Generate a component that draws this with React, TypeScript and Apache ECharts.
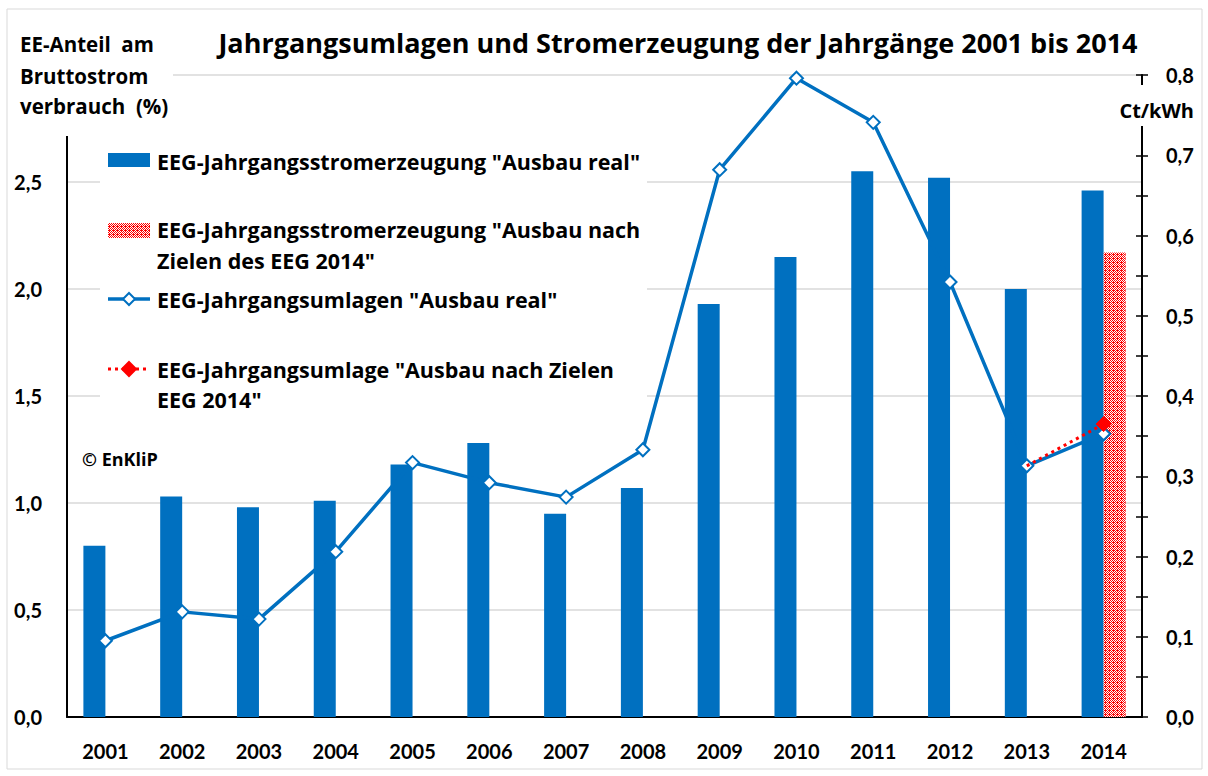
import React, { useEffect, useRef } from "react";
import * as echarts from "echarts";

const years = ["2001","2002","2003","2004","2005","2006","2007","2008","2009","2010","2011","2012","2013","2014"];
const stromReal = [0.80, 1.03, 0.98, 1.01, 1.18, 1.28, 0.95, 1.07, 1.93, 2.15, 2.55, 2.52, 2.00, 2.46];
const stromZiel = [null, null, null, null, null, null, null, null, null, null, null, null, null, 2.17];
const umlageReal = [0.095, 0.131, 0.122, 0.206, 0.317, 0.292, 0.274, 0.333, 0.682, 0.796, 0.741, 0.542, 0.313, 0.353];
const umlageZiel = [null, null, null, null, null, null, null, null, null, null, null, null, 0.313, 0.365];

const legendNames = [
  'EEG-Jahrgangsstromerzeugung "Ausbau real"',
  'EEG-Jahrgangsstromerzeugung "Ausbau nach\nZielen des EEG 2014"',
  'EEG-Jahrgangsumlagen "Ausbau real"',
  'EEG-Jahrgangsumlage "Ausbau nach Zielen\nEEG 2014"',
];

const FONT = "Lato, 'Open Sans', sans-serif";
const TFONT = "'Open Sans', Lato, sans-serif";
const BLUE = "#0070C0";
const RED = "#FF0000";

function makePattern() {
  const c = document.createElement("canvas");
  c.width = 4;
  c.height = 4;
  const ctx = c.getContext("2d")!;
  ctx.fillStyle = "#ffffff";
  ctx.fillRect(0, 0, 4, 4);
  ctx.fillStyle = RED;
  const pts = [[0,0],[2,0],[1,1],[3,1],[0,2],[1,2],[2,2],[3,3],[1,3]];
  pts.forEach(([x, y]) => ctx.fillRect(x, y, 1, 1));
  return c;
}

const fmt = (v: number) => v.toFixed(1).replace(".", ",");

export default function App() {
  const ref = useRef<HTMLDivElement>(null);
  useEffect(() => {
    if (!ref.current) return;
    const chart = echarts.init(ref.current, null, { renderer: "svg" });
    const pattern = { image: makePattern(), repeat: "repeat" } as any;
    const txt = (text: string, x: number, y: number, size: number, align = "left", extra: any = {}) => ({
      type: "text",
      z: 101,
      style: {
        text, x, y, fill: "#000",
        font: `bold ${size}px ${TFONT}`,
        align, verticalAlign: "middle",
        lineHeight: extra.lineHeight || size * 1.2,
      },
    });
    const diamond = (cx: number, cy: number, r: number, fill: string, stroke: string) => ({
      type: "polygon",
      z: 102,
      shape: { points: [[cx, cy - r], [cx + r, cy], [cx, cy + r], [cx - r, cy]] },
      style: { fill, stroke, lineWidth: 2 },
    });
    chart.setOption({
      animation: false,
      backgroundColor: "#fff",
      grid: { left: 67, right: 66, top: 75, bottom: 59 },
      xAxis: {
        type: "category",
        data: years,
        axisLine: { lineStyle: { color: "#000", width: 2 } },
        axisTick: { show: false },
        axisLabel: { color: "#000", fontFamily: FONT, fontWeight: "bold", fontSize: 20, margin: 24 },
      },
      yAxis: [
        {
          type: "value", min: 0, max: 3, interval: 0.5, position: "left",
          axisLine: { show: true, lineStyle: { color: "#000", width: 2 } },
          axisTick: { show: false },
          axisLabel: {
            color: "#000", fontFamily: FONT, fontWeight: "bold", fontSize: 20, margin: 25,
            formatter: (v: number) => (v >= 3 ? "" : fmt(v)),
          },
          splitLine: { lineStyle: { color: "#D9D9D9", width: 1.5 } },
        },
        {
          type: "value", min: 0, max: 0.8, interval: 0.1, position: "right",
          axisLine: { show: true, lineStyle: { color: "#000", width: 2 } },
          axisTick: { show: true, length: 6, lineStyle: { color: "#000", width: 1.5 } },
          minorTick: { show: true, splitNumber: 2, length: 6, lineStyle: { color: "#000", width: 1.5 } },
          axisLabel: { color: "#000", fontFamily: FONT, fontWeight: "bold", fontSize: 20, margin: 24, formatter: (v: number) => fmt(v) },
          splitLine: { show: false },
        },
        {
          type: "value", min: 0, max: 0.8, interval: 0.1, position: "right",
          axisLine: { show: false },
          axisTick: { show: true, inside: true, length: 6, lineStyle: { color: "#000", width: 1.5 } },
          minorTick: { show: true, splitNumber: 2, length: 6, lineStyle: { color: "#000", width: 1.5 } },
          axisLabel: { show: false },
          splitLine: { show: false },
        },
      ],
      series: [
        {
          name: legendNames[0], type: "bar", yAxisIndex: 0, data: stromReal,
          barWidth: 22, barGap: "0%", itemStyle: { color: BLUE },
        },
        {
          name: legendNames[1], type: "bar", yAxisIndex: 0, data: stromZiel,
          barWidth: 22, barGap: "0%", itemStyle: { color: pattern },
        },
        {
          name: legendNames[2], type: "line", yAxisIndex: 1, data: umlageReal, z: 3,
          symbol: "diamond", symbolSize: 13,
          lineStyle: { color: BLUE, width: 3.5 },
          itemStyle: { color: "#fff", borderColor: BLUE, borderWidth: 2 },
        },
        {
          name: legendNames[3], type: "line", yAxisIndex: 1, z: 4,
          data: umlageZiel.map((v, i) => (i === 12 && v !== null ? { value: v, symbol: "none" } : v)),
          symbol: "diamond", symbolSize: 15,
          lineStyle: { color: RED, width: 3, type: [3, 4] },
          itemStyle: { color: RED, borderColor: RED },
        },
      ],
      graphic: [
        { type: "rect", z: -1, shape: { x: 7, y: 9, width: 1195, height: 760 }, style: { fill: "none", stroke: "#D9D9D9", lineWidth: 1 } },
        txt("Jahrgangsumlagen und Stromerzeugung der Jahrgänge 2001 bis 2014", 678, 42, 27, "center"),
        { type: "rect", z: 100, shape: { x: 10, y: 12, width: 163, height: 124 }, style: { fill: "#fff" } },
        txt("EE-Anteil  am", 20, 44, 20.5),
        txt("Bruttostrom", 20, 76, 20.5),
        txt("verbrauch  (%)", 20, 106, 20.5),
        { type: "rect", z: 100, shape: { x: 1100, y: 85, width: 100, height: 41 }, style: { fill: "#fff" } },
        txt("Ct/kWh", 1194, 110, 20, "right"),
        txt("© EnKliP", 82, 459, 18),
        { type: "rect", z: 100, shape: { x: 100, y: 140, width: 547, height: 276 }, style: { fill: "#fff" } },
        { type: "rect", z: 101, shape: { x: 108, y: 153, width: 42, height: 14 }, style: { fill: BLUE } },
        txt(legendNames[0], 157, 161, 21.5),
        { type: "rect", z: 101, shape: { x: 108, y: 223, width: 42, height: 15 }, style: { fill: pattern } },
        txt(legendNames[1], 157, 245, 21.5, "left", { lineHeight: 31 }),
        { type: "line", z: 101, shape: { x1: 108, y1: 299, x2: 150, y2: 299 }, style: { stroke: BLUE, lineWidth: 3.5 } },
        diamond(129, 299, 6, "#fff", BLUE),
        txt(legendNames[2], 157, 299, 21.5),
        { type: "line", z: 101, shape: { x1: 108, y1: 369, x2: 150, y2: 369 }, style: { stroke: RED, lineWidth: 3, lineDash: [3, 4] } },
        diamond(129, 369, 7, RED, RED),
        txt(legendNames[3], 157, 384, 21.5, "left", { lineHeight: 30 }),
      ],
    });
    return () => chart.dispose();
  }, []);
  return <div ref={ref} style={{ position: "fixed", left: 0, top: 0, width: 1208, height: 776 }} />;
}
